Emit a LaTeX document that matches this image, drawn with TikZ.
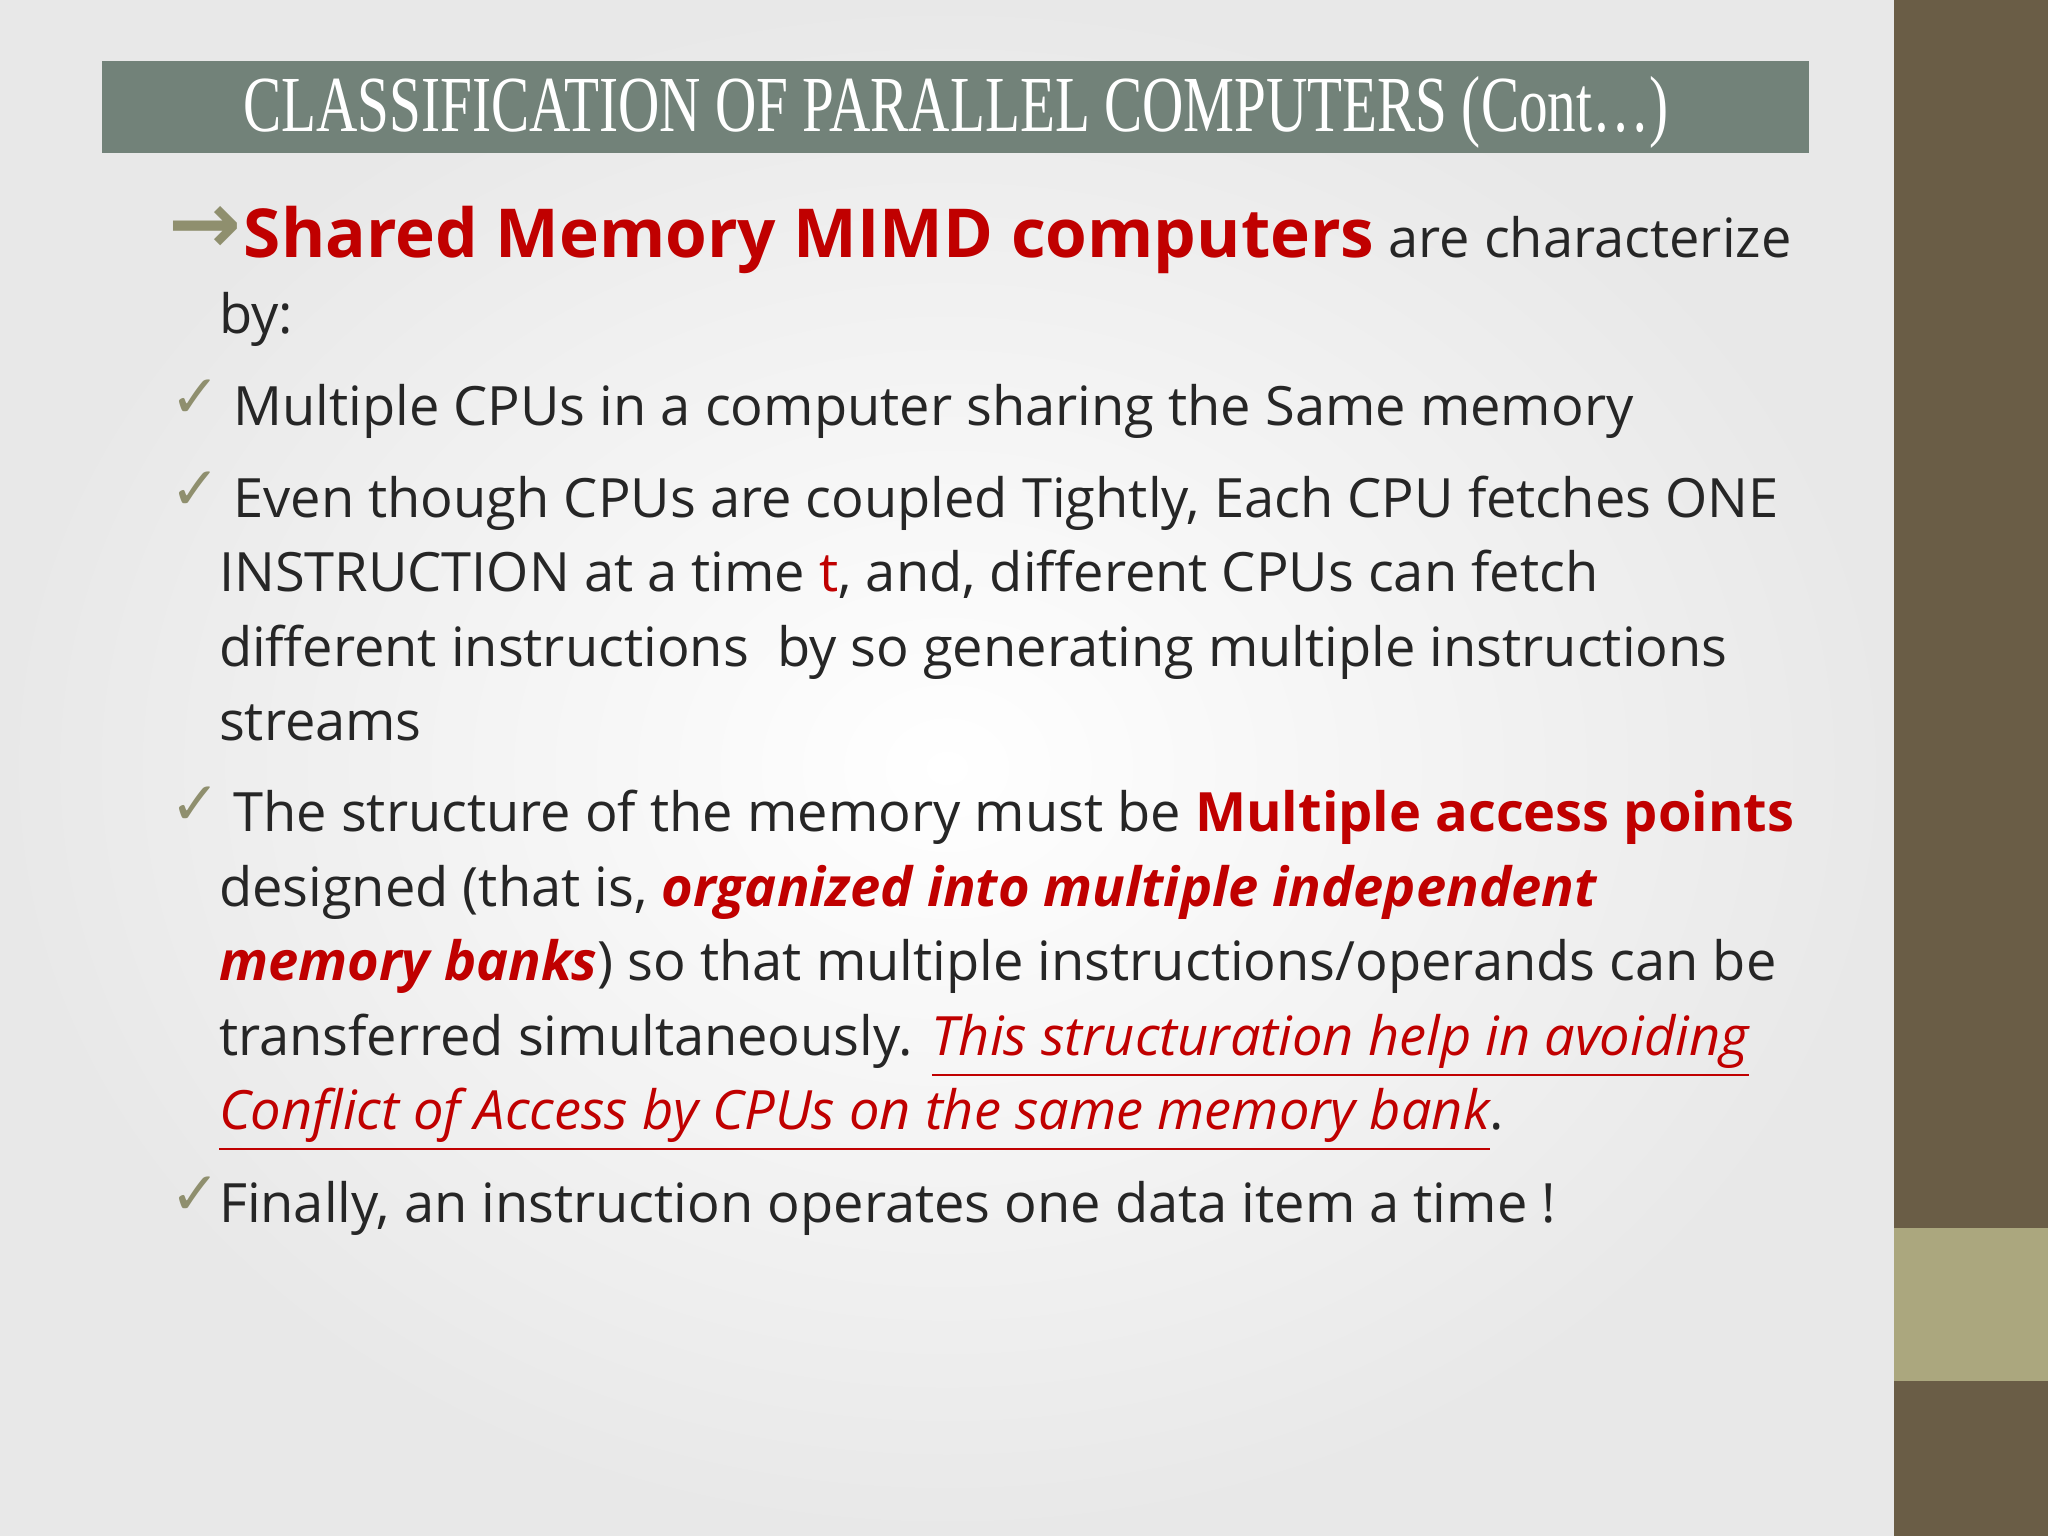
\documentclass[tikz,border=0pt]{standalone}
\usepackage{fontspec}
\setmainfont{Open Sans}
\newfontfamily\titlefont{Liberation Serif}[FakeStretch=0.72]
\newfontfamily\symfont{DejaVu Sans}
\definecolor{dred}{HTML}{C00000}
\definecolor{txt}{HTML}{262626}
\definecolor{olive}{HTML}{8F8F6E}
\definecolor{bar}{HTML}{6A5D46}
\definecolor{barl}{HTML}{ABA77E}
\definecolor{tbar}{HTML}{728279}
\tikzset{x=0.01cm,y=-0.01cm,
 body/.style={anchor=base west,inner sep=0pt,text=txt,font=\fontsize{11.8}{14}\selectfont},
 chk/.style={anchor=base west,inner sep=0pt,text=olive,font=\symfont\fontsize{13}{15}\selectfont}}
\begin{document}
\begin{tikzpicture}
\useasboundingbox (0,0) rectangle (1568,1176);
\shade[inner color=white,outer color=black!9] (0,0) rectangle (1450,1176);
\fill[bar] (1450,0) rectangle (1568,1176);
\fill[barl] (1450,940) rectangle (1568,1057);
\fill[tbar] (78,47) rectangle (1385,117);
\node[text=white,font=\titlefont\fontsize{17.3}{21}\selectfont,anchor=base] (title) at (732,101) {CLASSIFICATION OF PARALLEL COMPUTERS (Cont…)};
\node[anchor=base west,inner sep=0pt,text=olive,font=\symfont\bfseries\fontsize{19}{22}\selectfont] (ar) at (128,194) {→};
\node[body] (l1) at (186,197) {\textcolor{dred}{\fontsize{14.7}{17}\selectfont\bfseries Shared Memory MIMD computers} are characterize};
\node[body] (l2) at (167,255) {by:};
\node[chk] (c1) at (130,320) {✓};
\node[body] (l3) at (178,326) {Multiple CPUs in a computer sharing the Same memory};
\node[chk] (c2) at (130,390) {✓};
\node[body] (l4) at (178,396) {Even though CPUs are coupled Tightly, Each CPU fetches ONE};
\node[body] (l5) at (167,453) {INSTRUCTION at a time \textcolor{dred}{t}, and, different CPUs can fetch};
\node[body] (l6) at (167,510) {different instructions\ \ by so generating multiple instructions};
\node[body] (l7) at (167,567) {streams};
\node[chk] (c3) at (130,631) {✓};
\node[body] (l8) at (178,637) {The structure of the memory must be \textcolor{dred}{\bfseries Multiple access points}};
\node[body] (l9) at (167,694) {designed (that is, \textcolor{dred}{\bfseries\itshape organized into multiple independent}};
\node[body] (l10) at (167,751) {\textcolor{dred}{\bfseries\itshape memory banks}) so that multiple instructions/operands can be};
\node[body] (l11) at (167,808) {transferred simultaneously. \textcolor{dred}{\itshape\underline{This structuration help in avoiding}}};
\node[body] (l12) at (167,865) {\textcolor{dred}{\itshape\underline{Conflict of Access by CPUs on the same memory bank}}.};
\node[chk] (c4) at (130,930) {✓};
\node[body] (l13) at (167,936) {Finally, an instruction operates one data item a time !};
\end{tikzpicture}
\end{document}
